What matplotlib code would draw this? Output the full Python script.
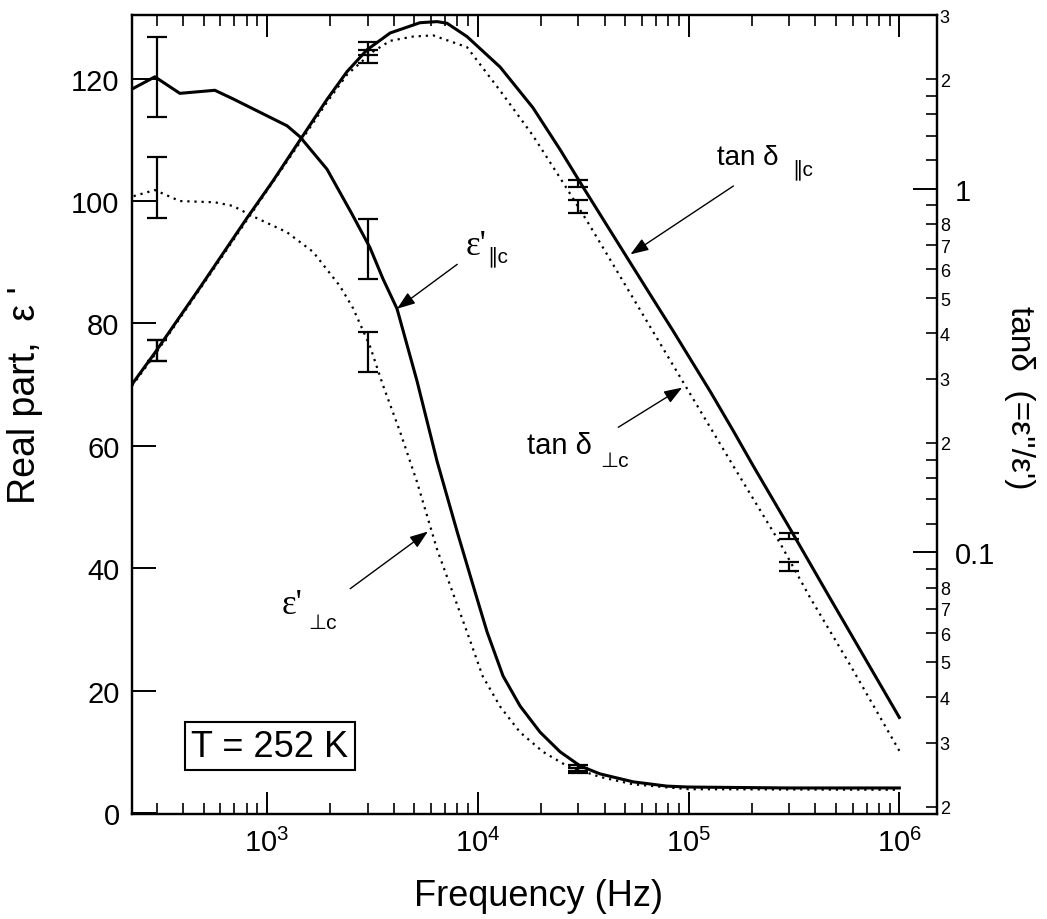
import numpy as np
import matplotlib.pyplot as plt
from matplotlib.ticker import FixedLocator, FixedFormatter, LogLocator, NullFormatter

plt.rcParams['font.family'] = ['Liberation Sans', 'DejaVu Sans']
plt.rcParams['mathtext.fontset'] = 'custom'
plt.rcParams['mathtext.rm'] = 'Liberation Sans'
plt.rcParams['mathtext.it'] = 'Liberation Sans:italic'

# ---------------- data ----------------
# real part eps', E || c  (solid)
f_eps_par = [229, 294, 386, 566, 690, 1245, 1434, 1927, 2520, 3080, 3550, 4140,
             5150, 6410, 7980, 9930, 11070, 13180, 15870, 19770, 24600, 30600,
             38000, 54600, 79000, 1.0e5, 3.0e5, 1.0e6]
eps_par = [118.3, 120.3, 117.6, 118.1, 116.7, 112.3, 110.5, 105.2, 98.0, 92.4, 87.3, 82.4,
           70.6, 57.5, 46.0, 35.0, 29.6, 22.4, 17.5, 13.2, 10.0, 7.7,
           6.4, 5.1, 4.4, 4.25, 4.1, 4.1]

# real part eps', E _|_ c  (dotted)
f_eps_perp = [233, 294, 386, 566, 690, 858, 1245, 1654, 2220, 2560, 3080, 3560,
              4280, 5150, 6410, 7800, 8890, 10540, 12770, 15870, 20400, 26500,
              38000, 54600, 79000, 1.0e5, 1.0e6]
eps_perp = [100.8, 101.8, 100.0, 99.8, 99.2, 97.5, 94.9, 91.7, 86.1, 82.5, 76.3, 69.8,
            62.3, 54.1, 43.1, 35.0, 29.6, 22.4, 17.4, 13.2, 10.0, 7.7,
            5.9, 4.7, 4.2, 3.9, 3.8]

# tan delta, E || c  (solid, right axis)
f_tan_par = [229, 294, 481, 803, 1067, 1434, 1927, 2400, 2985, 3840, 5320, 6410,
             7150, 8890, 12770, 18270, 24600, 31600, 42500, 54600, 67900, 84600,
             126800, 163000, 202700, 303600, 469600, 585000, 1.0e6]
tan_par = [0.29, 0.354, 0.535, 0.83, 1.05, 1.36, 1.76, 2.10, 2.41, 2.68, 2.86, 2.88,
           2.85, 2.62, 2.16, 1.67, 1.28, 1.01, 0.767, 0.608, 0.497, 0.406,
           0.277, 0.216, 0.173, 0.116, 0.0748, 0.0601, 0.0352]

# tan delta, E _|_ c  (dotted, right axis)
f_tan_perp = [229, 294, 481, 803, 1434, 1927, 2400, 3180, 3840, 4930, 6140, 8890,
              12770, 18270, 26500, 33000, 42500, 54600, 98400, 163000, 272000,
              377000, 585000, 1.0e6]
tan_perp = [0.287, 0.35, 0.53, 0.82, 1.34, 1.73, 2.06, 2.38, 2.55, 2.62, 2.64, 2.45,
            1.86, 1.40, 1.00, 0.815, 0.638, 0.50, 0.282, 0.173, 0.106,
            0.0752, 0.049, 0.0285]

# error bars
f_err_eps = [300, 3000, 30000]
eps_par_err_mid = [120.3, 92.2, 7.4]
eps_par_err = [6.5, 4.9, 0.5]
eps_perp_err_mid = [102.2, 75.3, 6.9]
eps_perp_err = [5.0, 3.3, 0.4]

f_err_tan = [300, 3000, 30000, 300000]
tan_par_lo = [0.335, 2.33, 1.01, 0.109]
tan_par_mid = [0.355, 2.43, 1.03, 0.111]
tan_par_hi = [0.385, 2.53, 1.06, 0.113]
tan_perp_lo = [0.335, 2.22, 0.86, 0.089]
tan_perp_mid = [0.355, 2.31, 0.895, 0.0915]
tan_perp_hi = [0.385, 2.40, 0.93, 0.094]

x_major = [1e3, 1e4, 1e5, 1e6]
eps_ticks = [0, 20, 40, 60, 80, 100, 120]
tan_major = [0.1, 1]
tan_major_labels = ['0.1', '1']
tan_minor = [0.02, 0.03, 0.04, 0.05, 0.06, 0.07, 0.08, 0.09,
             0.12, 0.14, 0.16, 0.18,
             0.2, 0.3, 0.4, 0.5, 0.6, 0.7, 0.8, 0.9,
             1.2, 1.4, 1.6, 1.8, 2, 3]
tan_minor_labels = ['2', '3', '4', '5', '6', '7', '8', '',
                    '', '', '', '',
                    '2', '3', '4', '5', '6', '7', '8', '',
                    '', '', '', '', '2', '3']

# ---------------- figure ----------------
fig = plt.figure(figsize=(10.47, 9.2), dpi=100)
ax = fig.add_axes([0.1261, 0.1141, 0.7689, 0.8685])
ax2 = ax.twinx()

solid = dict(color='black', lw=2.2, solid_joinstyle='round')
dotted = dict(color='black', lw=1.6, linestyle=(0, (1, 2.2)))

ax.plot(f_eps_par, eps_par, **solid)
ax.plot(f_eps_perp, eps_perp, **dotted)
ax2.plot(f_tan_par, tan_par, **solid)
ax2.plot(f_tan_perp, tan_perp, **dotted)

eb = dict(fmt='none', ecolor='black', elinewidth=1.6, capsize=7, capthick=1.6)
ax.errorbar(f_err_eps, eps_par_err_mid, yerr=eps_par_err, **eb)
ax.errorbar(f_err_eps, eps_perp_err_mid, yerr=eps_perp_err, **eb)
ax2.errorbar(f_err_tan, tan_par_mid,
             yerr=[np.subtract(tan_par_mid, tan_par_lo), np.subtract(tan_par_hi, tan_par_mid)], **eb)
ax2.errorbar(f_err_tan, tan_perp_mid,
             yerr=[np.subtract(tan_perp_mid, tan_perp_lo), np.subtract(tan_perp_hi, tan_perp_mid)], **eb)

# axes, scales
ax.set_xscale('log')
ax.set_xlim(229, 1.51e6)
ax.set_ylim(-0.16, 130.4)
ax2.set_yscale('log')
ax2.set_ylim(0.0191, 3.003)

ax.set_xticks(x_major)
ax.xaxis.set_minor_locator(LogLocator(base=10, subs=np.arange(2, 10), numticks=30))
ax.xaxis.set_minor_formatter(NullFormatter())
ax.tick_params(axis='x', which='major', direction='in', length=16, width=1.4,
               top=True, labelsize=21, pad=10)
ax.tick_params(axis='x', which='minor', direction='in', length=8, width=1.2, top=True)

ax.set_yticks(eps_ticks)
ax.tick_params(axis='y', direction='in', length=17, width=1.4, right=False,
               labelsize=21, pad=9)

ax2.yaxis.set_major_locator(FixedLocator(tan_major))
ax2.yaxis.set_major_formatter(FixedFormatter(tan_major_labels))
ax2.yaxis.set_minor_locator(FixedLocator(tan_minor))
ax2.yaxis.set_minor_formatter(FixedFormatter(tan_minor_labels))
ax2.tick_params(axis='y', which='major', direction='in', length=17, width=1.4,
                labelsize=21, pad=13)
ax2.tick_params(axis='y', which='minor', direction='in', length=8, width=1.2,
                labelsize=13, pad=2)

for a in (ax, ax2):
    for s in a.spines.values():
        s.set_linewidth(1.6)

# axis titles
fig.text(538 / 1047, 1 - 897 / 920, 'Frequency (Hz)', ha='center', va='center', fontsize=26)
fig.text(25 / 1047, 1 - 395 / 920, "Real part,  ε '", rotation=90,
         ha='center', va='center', fontsize=27)
fig.text(1020 / 1047, 1 - 398 / 920, "tanδ  (=ε''/ε')", rotation=-90,
         ha='center', va='center', fontsize=24)

# curve labels with arrows
arrow = dict(arrowstyle='-|>,head_length=0.55,head_width=0.2', lw=1.0, color='black',
             mutation_scale=20, shrinkA=0, shrinkB=0)

ax.annotate('', xy=(4140, 82.4), xycoords='data',
            xytext=(0.404, 0.688), textcoords='axes fraction', arrowprops=arrow)
t1 = ax.text(0.414, 0.712, "ε'", transform=ax.transAxes, fontsize=25,
             family='Liberation Serif', ha='left', va='center')
ax.annotate('∥c', xy=(1, 0), xycoords=t1, xytext=(1, 0), textcoords='offset points',
            fontsize=15, ha='left', va='baseline')

ax.annotate('', xy=(5800, 46), xycoords='data',
            xytext=(0.271, 0.282), textcoords='axes fraction', arrowprops=arrow)
t2 = ax.text(0.186, 0.262, "ε'", transform=ax.transAxes, fontsize=25,
             family='Liberation Serif', ha='left', va='center')
ax.annotate('⊥c', xy=(1, 0), xycoords=t2, xytext=(4, -5), textcoords='offset points',
            fontsize=15, ha='left', va='baseline')

ax2.annotate('', xy=(53000, 0.66), xycoords='data',
             xytext=(0.747, 0.786), textcoords='axes fraction', arrowprops=arrow)
t3 = ax2.text(0.727, 0.822, 'tan δ', transform=ax2.transAxes, fontsize=20,
              ha='left', va='center')
ax2.annotate('∥c', xy=(1, 0), xycoords=t3, xytext=(10, -3), textcoords='offset points',
             fontsize=15, ha='left', va='baseline')

ax2.annotate('', xy=(93300, 0.284), xycoords='data',
             xytext=(0.604, 0.484), textcoords='axes fraction', arrowprops=arrow)
t4 = ax2.text(0.491, 0.462, 'tan δ', transform=ax2.transAxes, fontsize=21,
              ha='left', va='center')
ax2.annotate('⊥c', xy=(1, 0), xycoords=t4, xytext=(6, -5), textcoords='offset points',
             fontsize=15, ha='left', va='baseline')

# temperature box
ax.text(0.171, 0.085, 'T = 252 K', transform=ax.transAxes, fontsize=26,
        ha='center', va='center',
        bbox=dict(boxstyle='square,pad=0.18', fc='white', ec='black', lw=1.5))

fig.savefig('out.png', dpi=100)
